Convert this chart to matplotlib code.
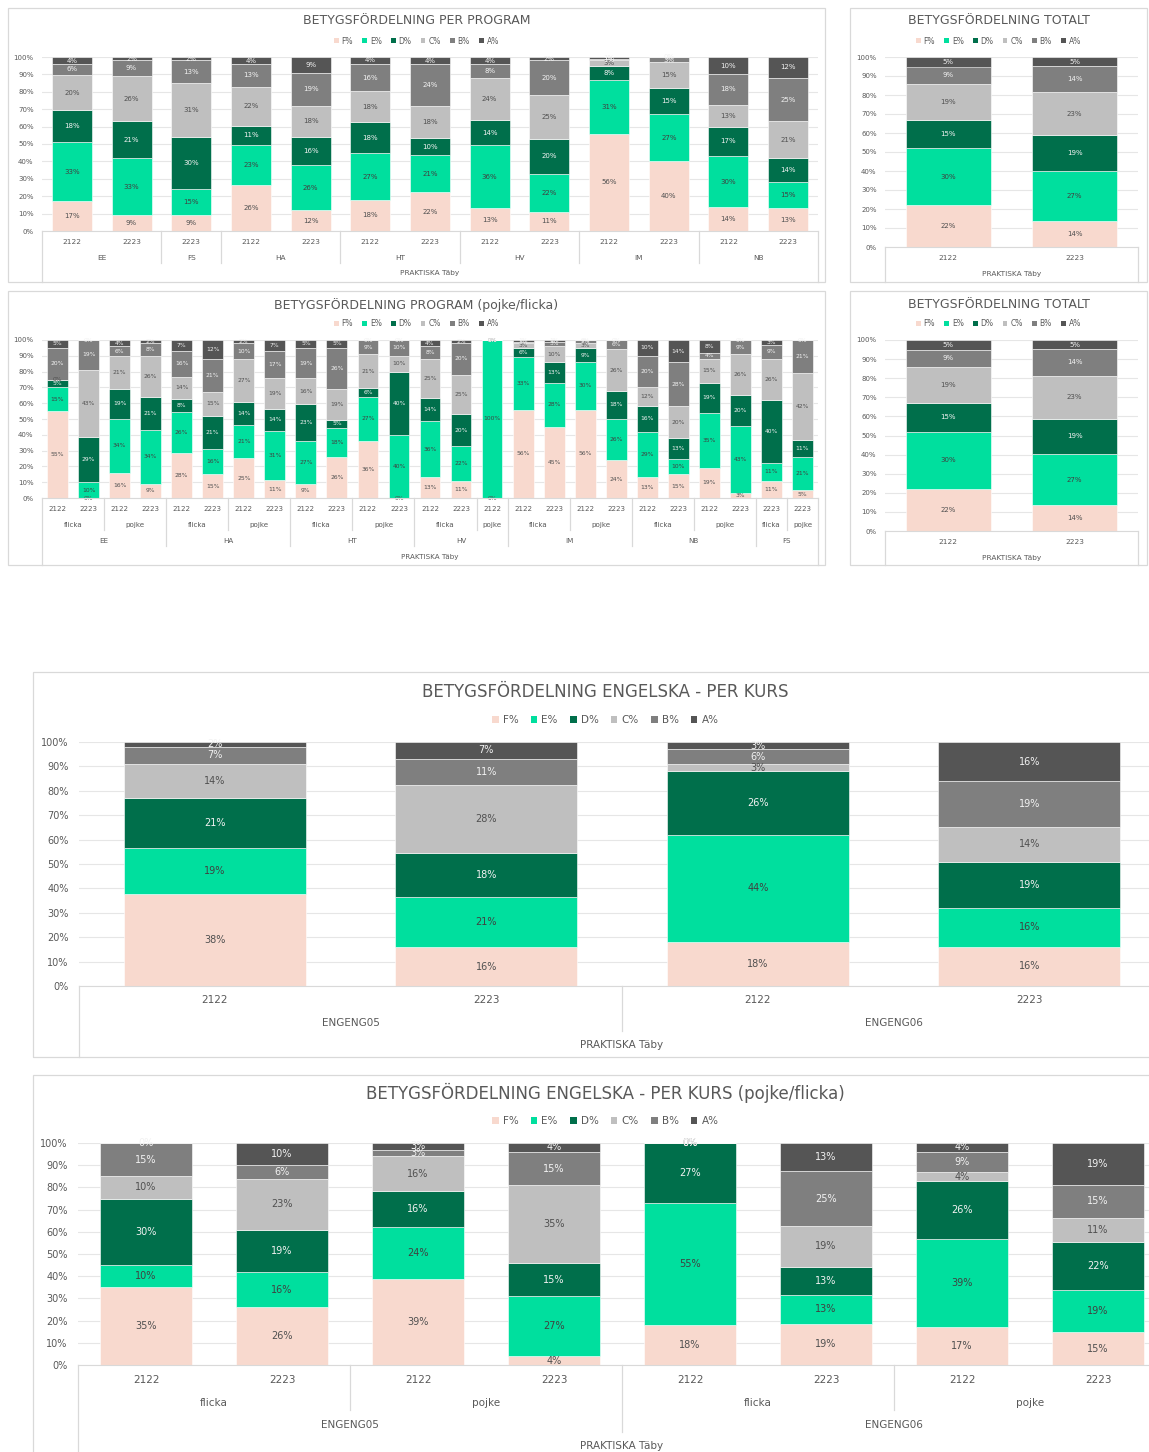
import numpy as np
import matplotlib.pyplot as plt
import matplotlib.transforms as mtransforms
from matplotlib.patches import Rectangle, Patch

# figure size in pixels (dpi 100)
W, H = 1149, 1452

GRADES = ["F%", "E%", "D%", "C%", "B%", "A%"]
COLORS = ["#F8D9CE", "#00DF9E", "#006F4B", "#BFBFBF", "#7F7F7F", "#555555"]
LABEL_COLORS = ["#505050", "#404040", "#F2F2F2", "#505050", "#F2F2F2", "#F2F2F2"]
TXT = "#595959"
EDGE = "#D9D9D9"
GRID = "#E6E6E6"

# ---- betygsfördelning per program ----
prog_years = ["2122", "2223", "2223", "2122", "2223", "2122", "2223",
              "2122", "2223", "2122", "2223", "2122", "2223"]
prog_groups = [("EE", 2), ("FS", 1), ("HA", 2), ("HT", 2), ("HV", 2), ("IM", 2), ("NB", 2)]
prog_F = [17, 9, 9, 26, 12, 18, 22, 13, 11, 56, 40, 14, 13]
prog_E = [33, 33, 15, 23, 26, 27, 21, 36, 22, 31, 27, 30, 15]
prog_D = [18, 21, 30, 11, 16, 18, 10, 14, 20, 8, 15, 17, 14]
prog_C = [20, 26, 31, 22, 18, 18, 18, 24, 25, 3, 15, 13, 21]
prog_B = [6, 9, 13, 13, 19, 16, 24, 8, 20, 1, 3, 18, 25]
prog_A = [4, 2, 2, 4, 9, 4, 4, 4, 2, 1, 0, 10, 12]

# ---- betygsfördelning totalt ----
tot_years = ["2122", "2223"]
tot_F = [22, 14]
tot_E = [30, 27]
tot_D = [15, 19]
tot_C = [19, 23]
tot_B = [9, 14]
tot_A = [5, 5]

# ---- program (pojke/flicka) ----
gp_years = ["2122", "2223", "2122", "2223",   # EE
            "2122", "2223", "2122", "2223",   # HA
            "2122", "2223", "2122", "2223",   # HT
            "2122", "2223", "2122",           # HV
            "2122", "2223", "2122", "2223",   # IM
            "2122", "2223", "2122", "2223",   # NB
            "2223", "2223"]                   # FS
gp_sex = [("flicka", 2), ("pojke", 2), ("flicka", 2), ("pojke", 2), ("flicka", 2), ("pojke", 2),
          ("flicka", 2), ("pojke", 1), ("flicka", 2), ("pojke", 2), ("flicka", 2), ("pojke", 2),
          ("flicka", 1), ("pojke", 1)]
gp_groups = [("EE", 4), ("HA", 4), ("HT", 4), ("HV", 3), ("IM", 4), ("NB", 4), ("FS", 2)]
gp_F = [55, 0, 16, 9, 28, 15, 25, 11, 9, 26, 36, 0, 13, 11, 0, 56, 45, 56, 24, 13, 15, 19, 3, 11, 5]
gp_E = [15, 10, 34, 34, 26, 16, 21, 31, 27, 18, 27, 40, 36, 22, 100, 33, 28, 30, 26, 29, 10, 35, 43, 11, 21]
gp_D = [5, 29, 19, 21, 8, 21, 14, 14, 23, 5, 6, 40, 14, 20, 0, 6, 13, 9, 18, 16, 13, 19, 20, 40, 11]
gp_C = [0, 43, 21, 26, 14, 15, 27, 19, 16, 19, 21, 10, 25, 25, 0, 3, 10, 3, 26, 12, 20, 15, 26, 26, 42]
gp_B = [20, 19, 6, 8, 16, 21, 10, 17, 19, 26, 9, 10, 8, 20, 0, 1, 3, 2, 6, 20, 28, 4, 9, 9, 21]
gp_A = [5, 0, 4, 2, 7, 12, 2, 7, 5, 5, 0, 0, 4, 2, 0, 1, 1, 0, 0, 10, 14, 8, 0, 3, 0]

# ---- engelska per kurs ----
eng_years = ["2122", "2223", "2122", "2223"]
eng_groups = [("ENGENG05", 2), ("ENGENG06", 2)]
eng_F = [38, 16, 18, 16]
eng_E = [19, 21, 44, 16]
eng_D = [21, 18, 26, 19]
eng_C = [14, 28, 3, 14]
eng_B = [7, 11, 6, 19]
eng_A = [2, 7, 3, 16]

# ---- engelska per kurs (pojke/flicka) ----
eg_years = ["2122", "2223"] * 4
eg_sex = [("flicka", 2), ("pojke", 2), ("flicka", 2), ("pojke", 2)]
eg_groups = [("ENGENG05", 4), ("ENGENG06", 4)]
eg_F = [35, 26, 39, 4, 18, 19, 17, 15]
eg_E = [10, 16, 24, 27, 55, 13, 39, 19]
eg_D = [30, 19, 16, 15, 27, 13, 26, 22]
eg_C = [10, 23, 16, 35, 0, 19, 4, 11]
eg_B = [15, 6, 3, 15, 0, 25, 9, 15]
eg_A = [0, 10, 3, 4, 0, 13, 4, 19]

plt.rcParams['font.family'] = ['DejaVu Sans']
fig = plt.figure(figsize=(W / 100, H / 100), dpi=100)


def add_panel(box, plot, title, title_y, legend_y, title_fs, legend_fs):
    x0, y0, x1, y1 = box
    fig.add_artist(Rectangle((x0 / W, 1 - y1 / H), (x1 - x0) / W, (y1 - y0) / H,
                             transform=fig.transFigure, fill=False, edgecolor=EDGE, lw=0.9))
    cx = (x0 + x1) / 2
    fig.text(cx / W, 1 - title_y / H, title, ha='center', va='center',
             fontsize=title_fs, color=TXT)
    handles = [Patch(facecolor=c, edgecolor='none') for c in COLORS]
    fig.legend(handles, GRADES, loc='center', bbox_to_anchor=(cx / W, 1 - legend_y / H),
               ncol=6, frameon=False, fontsize=legend_fs, labelcolor=TXT,
               handlelength=0.6, handleheight=0.6, handletextpad=0.4, columnspacing=1.2,
               borderaxespad=0, borderpad=0)
    left, top, right, bottom = plot
    ax = fig.add_axes([left / W, 1 - bottom / H, (right - left) / W, (bottom - top) / H])
    return ax


def stack(ax, cols, label_fs, tick_fs, pad):
    data = np.array(cols, dtype=float)
    frac = data / data.sum(axis=0)   # 100% stacked
    x = np.arange(data.shape[1])
    base = np.zeros(len(x))
    for i in range(len(GRADES)):
        ax.bar(x, frac[i], 0.67, bottom=base, color=COLORS[i],
               edgecolor='white', linewidth=0.4, zorder=2)
        for j in x:
            ax.text(j, base[j] + frac[i, j] / 2, f"{data[i, j]:.0f}%", ha='center', va='center',
                    fontsize=label_fs, color=LABEL_COLORS[i], zorder=3)
        base += frac[i]
    ax.set_xlim(-0.5, len(x) - 0.5)
    ax.set_ylim(0, 1)
    ticks = np.linspace(0, 1, 11)
    ax.set_yticks(ticks)
    ax.set_yticklabels([f"{t * 100:.0f}%" for t in ticks])
    ax.tick_params(axis='y', length=0, pad=pad, labelsize=tick_fs, labelcolor=TXT)
    ax.set_xticks([])
    ax.grid(axis='y', color=GRID, lw=0.8, zorder=0)
    ax.set_axisbelow(True)
    for s in ['top', 'left', 'right']:
        ax.spines[s].set_visible(False)
    ax.spines['bottom'].set_color(EDGE)
    ax.spines['bottom'].set_zorder(4)


def cat_axis(ax, plot, levels, row_y, line_y, fs):
    _, top, _, bottom = plot

    def yf(py):
        return (bottom - py) / (bottom - top)

    tr = mtransforms.blended_transform_factory(ax.transData, ax.transAxes)
    for j, lab in enumerate(levels[0]):
        ax.text(j, yf(row_y[0]), lab, transform=tr, ha='center', va='center',
                fontsize=fs, color=TXT, clip_on=False)
    depth = {}
    for k, groups in enumerate(levels[1:], start=1):
        pos = 0
        depth[0] = k
        for lab, span in groups:
            ax.text(pos + (span - 1) / 2, yf(row_y[k]), lab, transform=tr, ha='center',
                    va='center', fontsize=fs, color=TXT, clip_on=False)
            pos += span
            depth[pos] = k
    for b, k in depth.items():
        ax.plot([b - 0.5, b - 0.5], [0, yf(line_y[k])], transform=tr, color=EDGE,
                lw=0.9, clip_on=False)


# panel 1: per program
p1 = (42, 57, 818, 231)
ax1 = add_panel((8, 8, 825, 282), p1, "BETYGSFÖRDELNING PER PROGRAM", 21, 41, 9, 5.5)
stack(ax1, [prog_F, prog_E, prog_D, prog_C, prog_B, prog_A], 5, 5, 6)
cat_axis(ax1, p1, [prog_years, prog_groups, [("PRAKTISKA Täby", len(prog_years))]],
         [241.5, 257.5, 273], [None, 263, 282], 5.3)

# panel 2: totalt
p2 = (885, 57, 1138, 247)
ax2 = add_panel((850, 8, 1147, 282), p2, "BETYGSFÖRDELNING TOTALT", 21, 41, 9, 5.5)
stack(ax2, [tot_F, tot_E, tot_D, tot_C, tot_B, tot_A], 5, 5, 6)
cat_axis(ax2, p2, [tot_years, [("PRAKTISKA Täby", 2)]], [258, 274], [None, 282], 5.3)

# panel 3: program (pojke/flicka)
p3 = (42, 340, 818, 498)
ax3 = add_panel((8, 291, 825, 565), p3, "BETYGSFÖRDELNING PROGRAM (pojke/flicka)", 305, 324, 9, 5.5)
stack(ax3, [gp_F, gp_E, gp_D, gp_C, gp_B, gp_A], 4.3, 5, 6)
cat_axis(ax3, p3, [gp_years, gp_sex, gp_groups, [("PRAKTISKA Täby", len(gp_years))]],
         [508.5, 525, 541, 557], [None, 530, 546, 565], 5.1)

# panel 4: totalt (repeat)
p4 = (885, 340, 1138, 531)
ax4 = add_panel((850, 291, 1147, 565), p4, "BETYGSFÖRDELNING TOTALT", 305, 324, 9, 5.5)
stack(ax4, [tot_F, tot_E, tot_D, tot_C, tot_B, tot_A], 5, 5, 6)
cat_axis(ax4, p4, [tot_years, [("PRAKTISKA Täby", 2)]], [542, 558], [None, 565], 5.3)

# panel 5: engelska per kurs
p5 = (79, 742, 1165, 986)
ax5 = add_panel((33, 672, 1178, 1057), p5, "BETYGSFÖRDELNING ENGELSKA - PER KURS", 692, 720, 12, 7.5)
stack(ax5, [eng_F, eng_E, eng_D, eng_C, eng_B, eng_A], 7, 7, 7.5)
cat_axis(ax5, p5, [eng_years, eng_groups, [("PRAKTISKA Täby", 4)]],
         [1000, 1023, 1045], [None, 1031, 1057], 7.5)

# panel 6: engelska per kurs (pojke/flicka)
p6 = (78, 1143, 1166, 1365)
ax6 = add_panel((33, 1075, 1178, 1470), p6, "BETYGSFÖRDELNING ENGELSKA - PER KURS (pojke/flicka)",
                1093, 1121, 12, 7.5)
stack(ax6, [eg_F, eg_E, eg_D, eg_C, eg_B, eg_A], 7, 7, 7.5)
cat_axis(ax6, p6, [eg_years, eg_sex, eg_groups, [("PRAKTISKA Täby", 8)]],
         [1380, 1403, 1425, 1446], [None, 1410, 1432, 1470], 7.5)

fig.savefig("out.png", dpi=100)
